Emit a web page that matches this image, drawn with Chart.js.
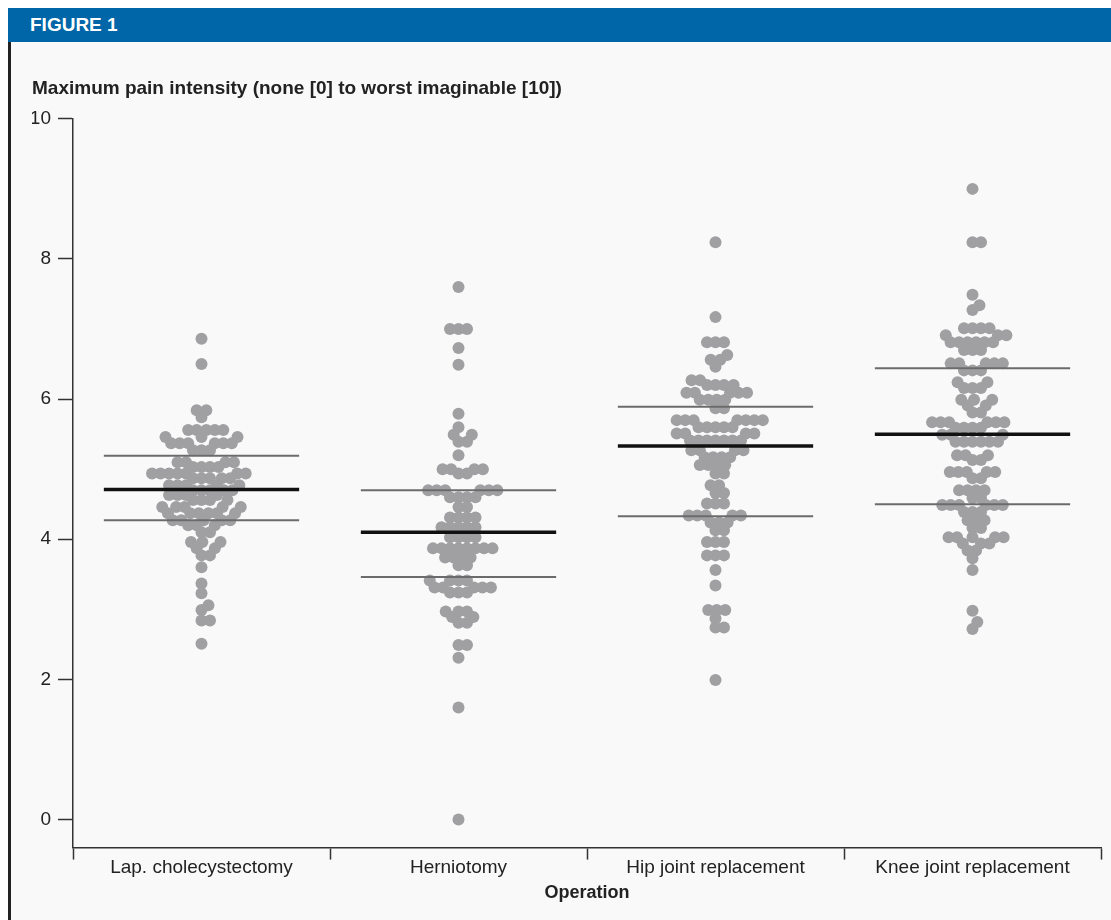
<!DOCTYPE html>
<html>
<head>
<meta charset="utf-8">
<script src="https://cdn.jsdelivr.net/npm/chart.js@4.4.0/dist/chart.umd.min.js"></script>
<style>
	body { margin: 0; background: #fff; width: 1111px; height: 920px; overflow: hidden; font-family: 'Liberation Sans', Arial, sans-serif; }
	#bar { position: absolute; left: 8px; top: 8px; width: 1103px; height: 34px; background: #0066a8; color: #fff;
		font: bold 19px 'Liberation Sans', Arial, sans-serif; line-height: 34px; padding-left: 22px; box-sizing: border-box; }
	#panel { position: absolute; left: 8px; top: 42px; width: 1103px; height: 878px; background: #f9f9f9;
		border-left: 3px solid #222; box-sizing: border-box; }
	#pain-chart { position: absolute; left: 0; top: 0; }
</style>
</head>
<body>
<div id="bar">FIGURE 1</div>
<div id="panel"><canvas id="pain-chart" width="1100" height="878"></canvas></div>
<script>
var categories = ["Lap. cholecystectomy", "Herniotomy", "Hip joint replacement", "Knee joint replacement"];

var lapValues = [6.86, 6.50, 5.84, 5.84, 5.74,
	5.56, 5.56, 5.56, 5.56, 5.56, 5.46, 5.46, 5.46,
	5.37, 5.37, 5.37, 5.37, 5.37, 5.37, 5.27, 5.27, 5.27,
	5.10, 5.10, 5.10, 5.10, 5.03, 5.03, 5.03, 5.03,
	4.94, 4.94, 4.94, 4.94, 4.94, 4.94, 4.94, 4.87, 4.87, 4.87, 4.87, 4.87,
	4.77, 4.77, 4.77, 4.77, 4.77, 4.70, 4.70, 4.70, 4.70, 4.70,
	4.63, 4.63, 4.63, 4.63, 4.56, 4.56, 4.56, 4.56,
	4.46, 4.46, 4.46, 4.46, 4.46, 4.37, 4.37, 4.37, 4.37, 4.37, 4.37,
	4.27, 4.27, 4.27, 4.27, 4.27, 4.20, 4.20, 4.20, 4.10, 4.10,
	3.96, 3.96, 3.96, 3.87, 3.87, 3.77, 3.77,
	3.60, 3.37, 3.23, 3.06, 2.99, 2.84, 2.84, 2.51];

var hernioValues = [7.60, 7.00, 7.00, 7.00, 6.73, 6.49, 5.79, 5.60, 5.49, 5.49, 5.39, 5.39, 5.20,
	5.00, 5.00, 5.00, 5.00, 4.94, 4.94, 4.70, 4.70, 4.70, 4.70, 4.70, 4.70,
	4.60, 4.60, 4.60, 4.60, 4.46, 4.46, 4.31, 4.31, 4.31, 4.31,
	4.17, 4.17, 4.17, 4.17, 4.17, 4.03, 4.03, 4.03, 4.03,
	3.87, 3.87, 3.87, 3.87, 3.87, 3.87, 3.87, 3.87, 3.74, 3.74, 3.74, 3.74, 3.63, 3.63,
	3.41, 3.41, 3.41, 3.41, 3.31, 3.31, 3.31, 3.31, 3.31, 3.24, 3.24, 3.24,
	2.97, 2.97, 2.97, 2.89, 2.89, 2.81, 2.81, 2.49, 2.49, 2.31, 1.60, 0.00];

var hipValues = [8.24, 7.17, 6.81, 6.81, 6.81, 6.63, 6.56, 6.56, 6.46, 6.27, 6.27,
	6.20, 6.20, 6.20, 6.20, 6.09, 6.09, 6.09, 6.09, 6.09, 5.99, 5.99, 5.99, 5.99, 5.87, 5.87,
	5.70, 5.70, 5.70, 5.70, 5.70, 5.70, 5.70, 5.60, 5.60, 5.60, 5.60, 5.60,
	5.51, 5.51, 5.51, 5.51, 5.41, 5.41, 5.41, 5.41, 5.41, 5.41, 5.41,
	5.27, 5.27, 5.27, 5.27, 5.17, 5.17, 5.17, 5.17, 5.06, 5.06, 5.06, 5.06,
	4.94, 4.94, 4.77, 4.77, 4.66, 4.66, 4.51, 4.51, 4.51,
	4.34, 4.34, 4.34, 4.34, 4.34, 4.24, 4.24, 4.24, 4.13, 4.13,
	3.96, 3.96, 3.96, 3.77, 3.77, 3.77, 3.56, 3.34, 2.99, 2.99, 2.99, 2.87, 2.74, 2.74, 1.99];

var kneeValues = [9.00, 8.24, 8.24, 7.49, 7.34, 7.27, 7.01, 7.01, 7.01, 7.01, 6.91, 6.91, 6.91,
	6.81, 6.81, 6.81, 6.81, 6.81, 6.81, 6.70, 6.70, 6.70, 6.51, 6.51, 6.51, 6.51, 6.51,
	6.41, 6.41, 6.41, 6.24, 6.24, 6.16, 6.16, 6.16, 5.99, 5.99, 5.99, 5.91, 5.91, 5.81, 5.81,
	5.67, 5.67, 5.67, 5.67, 5.67, 5.67, 5.59, 5.59, 5.59, 5.59, 5.49, 5.49, 5.49,
	5.39, 5.39, 5.39, 5.39, 5.39, 5.39, 5.20, 5.20, 5.20, 5.13, 5.13,
	4.96, 4.96, 4.96, 4.96, 4.96, 4.87, 4.87, 4.70, 4.70, 4.70, 4.70, 4.59, 4.59,
	4.49, 4.49, 4.49, 4.49, 4.49, 4.49, 4.39, 4.39, 4.39, 4.27, 4.27, 4.27, 4.16, 4.16,
	4.03, 4.03, 4.03, 4.03, 4.03, 3.94, 3.94, 3.94, 3.84, 3.84, 3.73, 3.56, 2.98, 2.82, 2.72];

var centerLine = [4.71, 4.10, 5.33, 5.50];
var upperLine = [5.19, 4.70, 5.89, 6.44];
var lowerLine = [4.27, 3.46, 4.33, 4.50];
var yTicks = [0, 2, 4, 6, 8, 10];

var groups = [lapValues, hernioValues, hipValues, kneeValues];
var font = "'Liberation Sans', Arial, sans-serif";

// simple beeswarm: put each dot as close to the middle as it fits (pixel space)
function swarm(ys, d) {
	var placed = [], out = [];
	var order = ys.map(function(v, i) { return i; }).sort(function(a, b) { return ys[a] - ys[b]; });
	order.forEach(function(i) {
		var y = ys[i];
		var near = placed.filter(function(p) { return Math.abs(p.y - y) < d; });
		var cands = [0];
		near.forEach(function(p) {
			var dx = Math.sqrt(d * d - (p.y - y) * (p.y - y));
			cands.push(p.x + dx, p.x - dx);
		});
		cands.sort(function(a, b) { return Math.abs(a) - Math.abs(b); });
		var x = cands.find(function(c) {
			return near.every(function(p) { return (p.x - c) * (p.x - c) + (p.y - y) * (p.y - y) >= d * d - 0.01; });
		});
		placed.push({ x: x, y: y });
		out[i] = x;
	});
	return out;
}

var datasets = [];
groups.forEach(function(vals, g) {
	datasets.push({
		type: 'scatter',
		data: vals.map(function(v) { return { x: g + 0.5, y: v }; }),
		backgroundColor: '#a0a0a3',
		borderWidth: 0,
		pointRadius: 6,
		pointHoverRadius: 6,
		order: 1
	});
});
function addLine(values, color, width) {
	values.forEach(function(v, g) {
		datasets.push({
			type: 'line',
			data: [{ x: g + 0.12, y: v }, { x: g + 0.88, y: v }],
			borderColor: color,
			borderWidth: width,
			pointRadius: 0,
			order: 0
		});
	});
}
addLine(upperLine, '#6b6b6b', 2);
addLine(lowerLine, '#6b6b6b', 2);
addLine(centerLine, '#111', 3.5);

var ctx = document.getElementById("pain-chart").getContext('2d');
var chart = new Chart(ctx, {
	type: 'scatter',
	data: { datasets: datasets },
	options: {
		responsive: false,
		animation: false,
		devicePixelRatio: 1,
		layout: { padding: { left: 21, right: 10, top: 0, bottom: 16 } },
		plugins: {
			legend: { display: false },
			tooltip: { enabled: false },
			title: {
				display: true,
				align: 'start',
				text: 'Maximum pain intensity (none [0] to worst imaginable [10])',
				color: '#222',
				font: { family: font, size: 19, weight: 'bold' },
				padding: { top: 35, bottom: 19 }
			}
		},
		scales: {
			x: {
				type: 'linear',
				min: 0,
				max: categories.length,
				afterBuildTicks: function(axis) {
					var t = [];
					for (var i = 0; i <= categories.length; i++) {
						t.push({ value: i });
						if (i < categories.length) t.push({ value: i + 0.5 });
					}
					axis.ticks = t;
				},
				ticks: {
					autoSkip: false, maxRotation: 0, minRotation: 0, padding: -3,
					color: '#222', font: { family: font, size: 19 },
					callback: function(v) { return Number.isInteger(v) ? '' : categories[Math.floor(v)]; }
				},
				grid: {
					drawOnChartArea: false, tickLength: 12, tickWidth: 1.5,
					tickColor: function(c) { return (c.tick && Number.isInteger(c.tick.value)) ? '#333' : 'rgba(0,0,0,0)'; }
				},
				border: { color: '#333', width: 1.5 },
				title: {
					display: true, text: 'Operation', color: '#222',
					font: { family: font, size: 18, weight: 'bold' },
					padding: { top: 6, bottom: 0 }
				}
			},
			y: {
				min: -0.4,
				max: 10,
				afterBuildTicks: function(axis) { axis.ticks = yTicks.map(function(v) { return { value: v }; }); },
				afterFit: function(axis) { axis.width = 41; },
				ticks: { padding: 7, color: '#222', font: { family: font, size: 19 } },
				grid: { drawOnChartArea: false, tickLength: 15, tickWidth: 1.5, color: '#333' },
				border: { color: '#333', width: 1.5 }
			}
		}
	}
});

// spread the dots sideways once the scales are known
var xs = chart.scales.x, ys = chart.scales.y;
var pxX = xs.getPixelForValue(1) - xs.getPixelForValue(0);
var pxY = ys.getPixelForValue(0) - ys.getPixelForValue(1);
groups.forEach(function(vals, g) {
	var offs = swarm(vals.map(function(v) { return v * pxY; }), 8.5);
	chart.data.datasets[g].data = vals.map(function(v, i) { return { x: g + 0.5 + offs[i] / pxX, y: v }; });
});
chart.update();
</script>
</body>
</html>
